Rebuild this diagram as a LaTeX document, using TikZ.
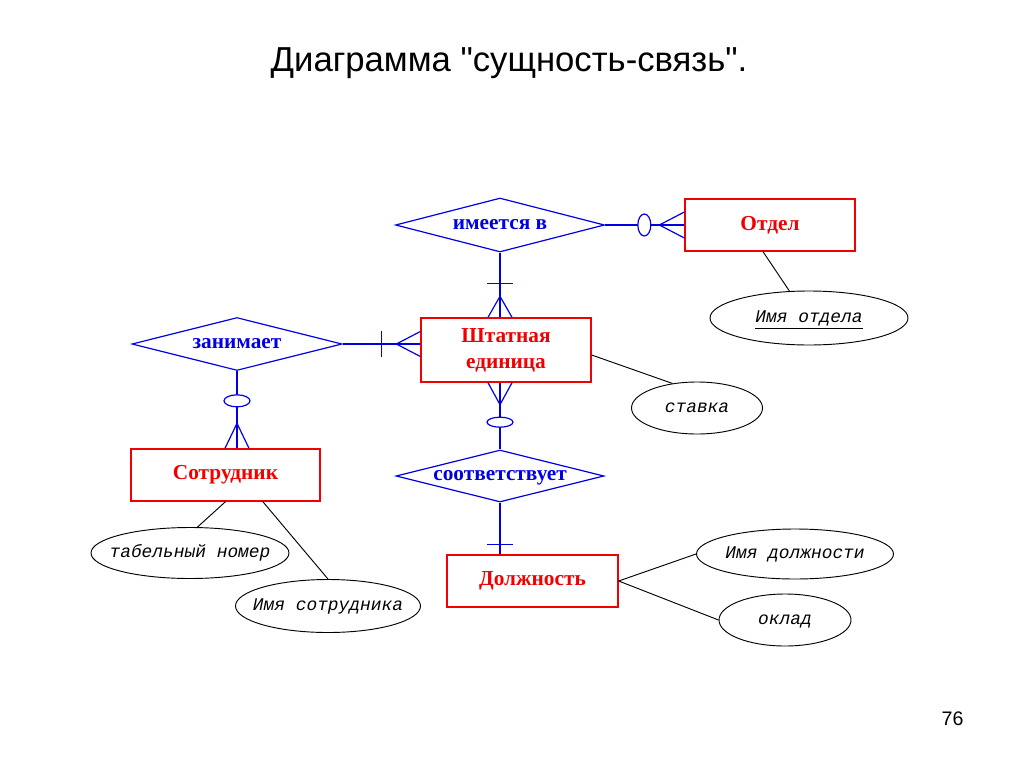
\documentclass[tikz,border=0pt]{standalone}
\usepackage{fontspec}
\setmainfont{Liberation Serif}
\setsansfont{Liberation Sans}
\setmonofont{Liberation Mono}
\newfontfamily\titlefont{Liberation Sans}[Ligatures=TeXOff]
\usetikzlibrary{shapes.geometric,calc}
\definecolor{erred}{RGB}{240,0,0}
\definecolor{erblue}{RGB}{0,0,225}

\begin{document}
\begin{tikzpicture}[x=0.75pt,y=-0.75pt,
	entity/.style={draw=erred,line width=1pt,text=erred,align=center,inner sep=0pt,
		font=\bfseries\fontsize{16}{19.5}\selectfont},
	relation/.style={diamond,aspect=4,draw=erblue,line width=0.9pt,text=erblue,inner sep=0pt,
		text height=7.4pt,text depth=0pt,font=\bfseries\fontsize{16}{19}\selectfont},
	attr/.style={ellipse,draw=black,line width=0.7pt,inner sep=0pt,
		text height=7pt,text depth=0pt,font=\ttfamily\itshape\fontsize{13.4}{16}\selectfont},
	link/.style={draw=erblue,line width=0.9pt},
	attrlink/.style={draw=black,line width=0.7pt}]
\useasboundingbox (0,0) rectangle (1024,767);
\node[anchor=base,font=\titlefont\fontsize{26}{30}\selectfont] (title) at (509,72) {Диаграмма "сущность-связь".};
\node[anchor=base,font=\sffamily\fontsize{14.7}{17}\selectfont] (page) at (952.5,725) {76};

\node[relation,minimum width=156.75pt,minimum height=40.5pt] (imeetsya) at (500,225) {\makebox[0pt]{имеется в}};
\node[entity,minimum width=127.5pt,minimum height=39pt] (otdel) at (770,225) {Отдел};
\node[attr,minimum width=148.5pt,minimum height=40.5pt] (imyaotdela) at (809,318) {\makebox[0pt]{\underline{Имя отдела}}};
\node[entity,minimum width=127.5pt,minimum height=48pt] (shtat) at (506,350) {Штатная\\единица};
\node[attr,minimum width=98.25pt,minimum height=39pt] (stavka) at (697,408) {\makebox[0pt]{ставка}};
\node[relation,minimum width=157.5pt,minimum height=39.75pt] (zanimaet) at (237,344) {\makebox[0pt]{занимает}};
\node[entity,minimum width=141.75pt,minimum height=39pt] (sotr) at (225.5,475) {Сотрудник};
\node[attr,minimum width=148.5pt,minimum height=38.25pt] (tabel) at (190,553) {\makebox[0pt]{табельный номер}};
\node[attr,minimum width=138.75pt,minimum height=39.75pt] (imyasotr) at (328,606) {\makebox[0pt]{Имя сотрудника}};
\node[relation,minimum width=156pt,minimum height=39pt] (sootv) at (500,476) {\makebox[0pt]{соответствует}};
\node[entity,minimum width=128.25pt,minimum height=39pt] (dolzh) at (532.5,581) {Должность};
\node[attr,minimum width=147.75pt,minimum height=37.5pt] (imyadolzh) at (795,554) {\makebox[0pt]{Имя должности}};
\node[attr,minimum width=99pt,minimum height=39pt] (oklad) at (785,620) {\makebox[0pt]{оклад}};

\coordinate (a1) at (imeetsya.south |- shtat.north);
\coordinate (b1) at (zanimaet.east -| shtat.west);
\coordinate (c1) at (zanimaet.south |- sotr.north);
\coordinate (d1) at (sootv.north |- shtat.south);
\coordinate (e1) at (sootv.south |- dolzh.north);

\draw[link] (imeetsya.east) -- (otdel.west);
\draw[link] (otdel.west) ++(-25,0) -- ++(25,-13) ++(-25,13) -- ++(25,13);
\draw[link,fill=white] ($(otdel.west)+(-40,0)$) ellipse (6.5 and 11);

\draw[link] (imeetsya.south) -- (a1);
\draw[link] ($(a1)+(-13,-34)$) -- ++(26,0);
\draw[link] ($(a1)+(-12,0)$) -- ++(12,-21) -- ++(12,21);

\draw[link] (zanimaet.east) -- (b1);
\draw[link] ($(b1)+(-39,-13)$) -- ++(0,26);
\draw[link] ($(b1)+(0,-12.5)$) -- ++(-24,12.5) -- ++(24,12.5);

\draw[link] (zanimaet.south) -- (c1);
\draw[link] ($(c1)+(-12,0)$) -- ++(12,-25) -- ++(12,25);
\draw[link,fill=white] ($(c1)+(0,-47.5)$) ellipse (13 and 6);

\draw[link] (d1) -- (sootv.north);
\draw[link] ($(d1)+(-12,0)$) -- ++(12,22) -- ++(12,-22);
\draw[link,fill=white] ($(d1)+(0,39.5)$) ellipse (13 and 5);

\draw[link] (sootv.south) -- (e1);
\draw[link] ($(e1)+(-13,-10)$) -- ++(26,0);

\draw[attrlink] ([xshift=-5.25pt]otdel.south) -- (imyaotdela.126);
\draw[attrlink] ([yshift=-3.75pt]shtat.east) -- (stavka.135);
\draw[attrlink] (sotr.south) -- (tabel.74);
\draw[attrlink] ([xshift=28pt]sotr.south) -- (imyasotr.north);
\draw[attrlink] (dolzh.east) -- (imyadolzh.west);
\draw[attrlink] (dolzh.east) -- (oklad.west);
\end{tikzpicture}
\end{document}
